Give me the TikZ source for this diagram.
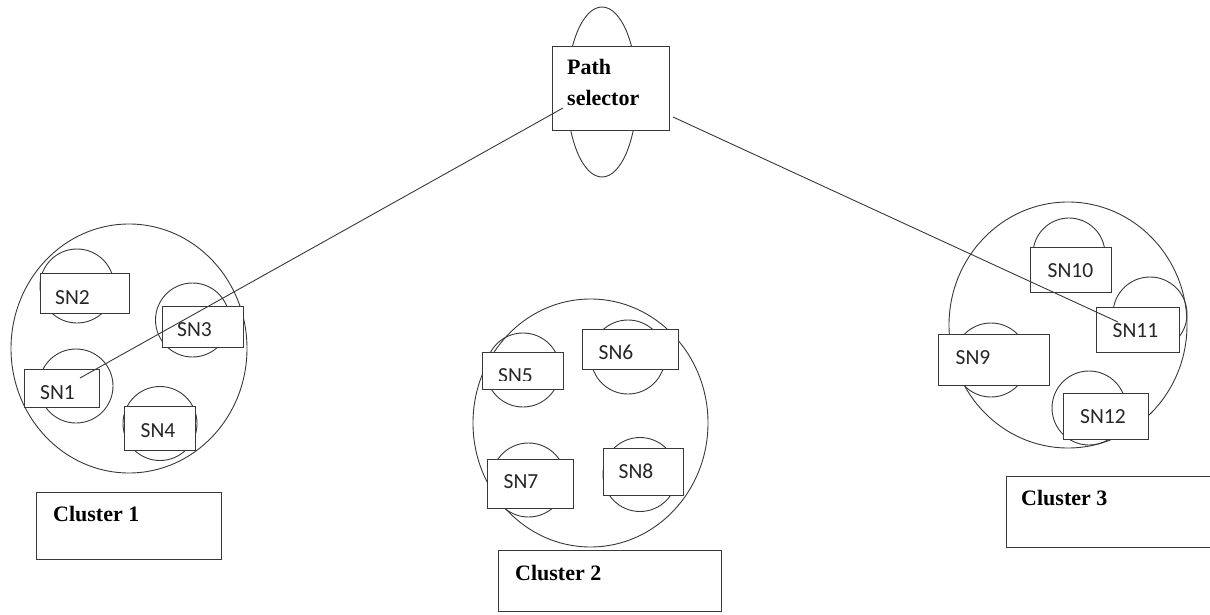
\documentclass[tikz,border=0pt]{standalone}
\usepackage{fontspec}
\setmainfont{Liberation Serif}
\setsansfont{Carlito}
\usetikzlibrary{shapes.geometric}
\tikzset{
  bigcirc/.style={draw=black!78, line width=0.9pt, ellipse, inner sep=0pt},
  smallcirc/.style={draw=black!78, line width=0.9pt, circle, inner sep=0pt, minimum size=74pt},
  snbox/.style={draw=black!78, line width=0.9pt, fill=white, rectangle, inner sep=0pt},
  snlabel/.style={font=\sffamily\fontsize{21.5}{24}\selectfont, inner sep=0pt, anchor=base, text=black!85},
  boldlabel/.style={font=\bfseries\fontsize{22}{31}\selectfont, inner sep=0pt, anchor=base west, align=left},
  link/.style={draw=black!78, line width=0.9pt}
}
\begin{document}
\begin{tikzpicture}[x=1pt, y=-1pt]
\useasboundingbox (0,0) rectangle (1210,615);
\clip (0,0) rectangle (1210,615);

% Path selector
\node[bigcirc, minimum width=70pt, minimum height=170pt] (psell) at (602,92) {};
\node[snbox, minimum width=117pt, minimum height=84pt] (ps) at (610.5,88) {};
\node[boldlabel] (pstext) at (567,106) {Path\\selector};

% Cluster circles
\node[bigcirc, minimum width=236pt, minimum height=249pt] (cl1) at (129,348.5) {};
\node[bigcirc, minimum width=235pt, minimum height=248pt] (cl2) at (590.5,423) {};
\node[bigcirc, minimum width=238pt, minimum height=246pt] (cl3) at (1068,325) {};

% small circles
\node[smallcirc] (c2) at (77,286) {};
\node[smallcirc] (c3) at (192.5,320) {};
\node[smallcirc] (c1) at (76,386) {};
\node[smallcirc] (c4) at (160,423.5) {};
\node[smallcirc] (c5) at (523,370) {};
\node[smallcirc] (c6) at (628,357) {};
\node[smallcirc] (c7) at (528.5,480) {};
\node[smallcirc] (c8) at (640,474.5) {};
\node[smallcirc, minimum size=72pt] (c10) at (1069,254) {};
\node[smallcirc] (c11) at (1150,314) {};
\node[smallcirc] (c9) at (991,360) {};
\node[smallcirc] (c12) at (1089,408) {};

% SN boxes
\node[snbox, minimum width=89pt, minimum height=40pt] (b2) at (84.5,293) {};
\node[snbox, minimum width=81pt, minimum height=41pt] (b3) at (202.5,326.5) {};
\node[snbox, minimum width=75pt, minimum height=38pt] (b1) at (61.5,388) {};
\node[snbox, minimum width=71pt, minimum height=44pt] (b4) at (159.5,428) {};
\node[snbox, minimum width=81pt, minimum height=37pt] (b5) at (522.5,370.5) {};
\node[snbox, minimum width=96pt, minimum height=40pt] (b6) at (630,349) {};
\node[snbox, minimum width=86pt, minimum height=49pt] (b7) at (530,483.5) {};
\node[snbox, minimum width=80pt, minimum height=47pt] (b8) at (643,471.5) {};
\node[snbox, minimum width=81pt, minimum height=45pt] (b10) at (1070.5,269.5) {};
\node[snbox, minimum width=83pt, minimum height=45pt] (b11) at (1137.5,329.5) {};
\node[snbox, minimum width=111pt, minimum height=51pt] (b9) at (993.5,359.5) {};
\node[snbox, minimum width=85pt, minimum height=46pt] (b12) at (1105.5,416) {};

% SN labels
\node[snlabel] (sn2) at (72.5,304) {SN2};
\node[snlabel] (sn3) at (194.5,336) {SN3};
\node[snlabel] (sn1) at (57.5,399) {SN1};
\node[snlabel] (sn4) at (158,437) {SN4};
\begin{scope}
  \clip (480,340) rectangle (565,380.5);
  \node[snlabel] (sn5) at (515.5,382) {SN5};
\end{scope}
\node[snlabel] (sn6) at (616,359) {SN6};
\node[snlabel] (sn7) at (521,488) {SN7};
\node[snlabel] (sn8) at (636,478) {SN8};
\node[snlabel] (sn10) at (1070.5,277) {SN10};
\node[snlabel] (sn11) at (1135.5,337) {SN11};
\node[snlabel] (sn9) at (973,364) {SN9};
\node[snlabel] (sn12) at (1103,423) {SN12};

% Cluster label boxes
\node[snbox, minimum width=185pt, minimum height=67pt] (k1) at (128.5,525.5) {};
\node[snbox, minimum width=223pt, minimum height=61pt] (k2) at (609.5,580.5) {};
\node[snbox, minimum width=214pt, minimum height=71pt] (k3) at (1113,511.5) {};
\node[boldlabel] (k1t) at (53,521) {Cluster 1};
\node[boldlabel] (k2t) at (515,580) {Cluster 2};
\node[boldlabel] (k3t) at (1021,505) {Cluster 3};

% connectors
\coordinate (psl) at (563,108);
\coordinate (psr) at (673,117);
\coordinate (e1) at (80,378);
\coordinate (e11) at (1118,322);
\draw[link] (psl) -- (e1);
\draw[link] (psr) -- (e11);
\end{tikzpicture}
\end{document}
